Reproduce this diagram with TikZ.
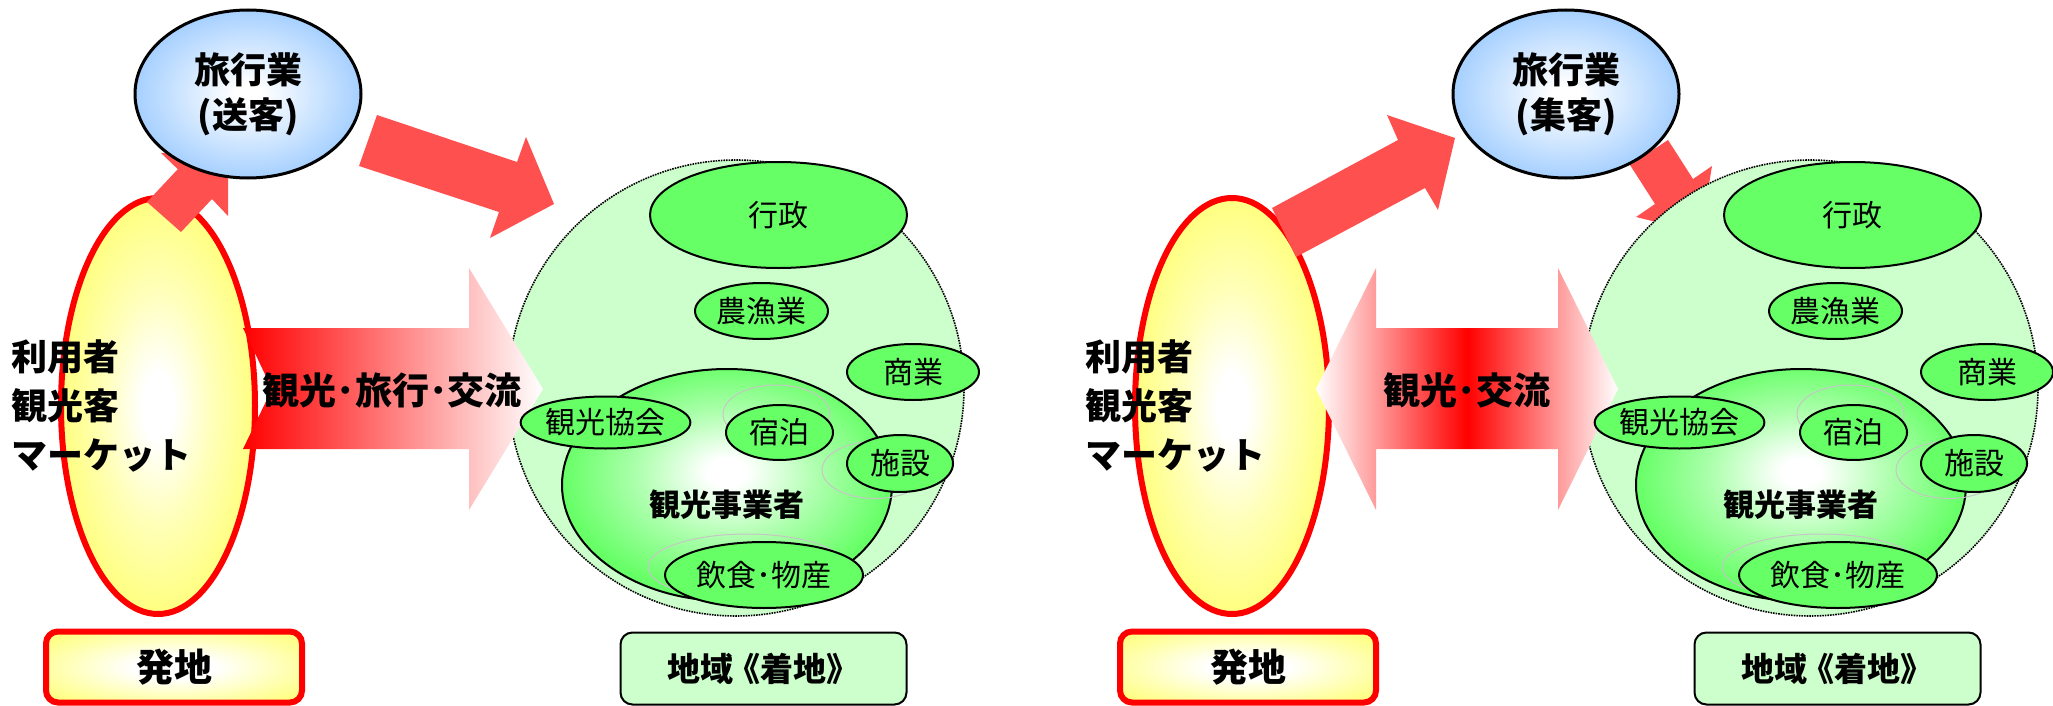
\documentclass[tikz,border=0pt]{standalone}
\usepackage{fontspec}
\setmainfont{Noto Sans CJK JP}
\usetikzlibrary{shapes.geometric}
\definecolor{arrred}{HTML}{FF5050}
\definecolor{tblue}{HTML}{A6D0FF}
\definecolor{myyel}{HTML}{FFFF80}
\definecolor{lgreen}{HTML}{CCFFCC}
\definecolor{mgreen}{HTML}{66FF66}
\pgfdeclareradialshading{bluerad}{\pgfpoint{0bp}{0bp}}{color(0bp)=(white); color(3bp)=(white); color(15bp)=(tblue!55!white); color(25bp)=(tblue); color(50bp)=(tblue)}
\pgfdeclareradialshading{yelrad}{\pgfpoint{0bp}{0bp}}{color(0bp)=(white); color(4bp)=(white); color(14bp)=(myyel!55!white); color(25bp)=(myyel); color(50bp)=(myyel)}
\pgfdeclareradialshading{boxrad}{\pgfpoint{0bp}{0bp}}{color(0bp)=(white); color(8bp)=(white); color(22bp)=(myyel!60!white); color(32bp)=(myyel); color(50bp)=(myyel)}
\pgfdeclareradialshading{grnrad}{\pgfpoint{0bp}{3bp}}{color(0bp)=(white); color(3bp)=(white); color(14bp)=(mgreen!55!white); color(25bp)=(mgreen); color(50bp)=(mgreen)}
\pgfdeclarehorizontalshading{redwhite}{100bp}{color(0bp)=(red); color(25bp)=(red); color(75bp)=(white); color(100bp)=(white)}
\pgfdeclarehorizontalshading{whiteredwhite}{100bp}{color(0bp)=(white); color(25bp)=(white); color(50bp)=(red); color(75bp)=(white); color(100bp)=(white)}

\newcommand\myregcircle[1]{%
  \node[regcirc] (#1circ) at (736,388) {};}
\newcommand\myreginner[1]{%
  \node[bizell] (#1biz) at (727,485) {};
  \node[ghost, minimum width=107pt, minimum height=58pt] (#1ghA) at (776.5,414) {};
  \node[ghost, minimum width=106pt, minimum height=57pt] (#1ghB) at (875,470) {};
  \node[ghost, minimum width=198pt, minimum height=66pt] (#1ghC) at (747,567) {};
  \node[sub, minimum width=257pt, minimum height=106pt] (#1gyosei) at (778.5,215) {行政};
  \node[sub, minimum width=133pt, minimum height=56pt] (#1nogyo) at (761.5,311) {農漁業};
  \node[sub, minimum width=132pt, minimum height=56pt] (#1shogyo) at (913,372) {商業};
  \node[sub, minimum width=167pt, minimum height=52pt] (#1kyokai) at (605.5,422.5) {観光協会};
  \node[sub, minimum width=107pt, minimum height=55pt] (#1shuku) at (779.5,432.5) {宿泊};
  \node[sub, minimum width=106pt, minimum height=57pt] (#1shisetsu) at (900,463.5) {施設};
  \node[sub, minimum width=198pt, minimum height=66pt] (#1inshoku) at (764,575) {飲食･物産};
  \node[font=\fontsize{31}{36}\selectfont\bfseries] (#1biztxt) at (727,505) {観光事業者};
  \node[chaku] (#1chaku) at (763.5,668.5) {地域\kern-0.2em《着地》};}
\newcommand\mymarket[1]{%
  \node[market] (#1mkt) at (158,406) {};}
\newcommand\mymarkettext[1]{%
  \node[anchor=west, align=left, font=\fontsize{36}{49}\selectfont\bfseries] (#1mtxt) at (8,406) {利用者\\観光客\\マーケット};
  \node[hatsu] (#1hatsu) at (174,667) {発地};}

\begin{document}
\begin{tikzpicture}[x=1pt,y=-1pt,
  regcirc/.style={circle, minimum size=456pt, inner sep=0pt, fill=lgreen, draw=black, densely dotted, line width=1.6pt},
  market/.style={ellipse, minimum width=194pt, minimum height=416pt, inner sep=0pt, draw=red, line width=6pt, shade, shading=yelrad},
  travel/.style={ellipse, minimum width=226pt, minimum height=168pt, inner sep=0pt, draw=black, line width=3pt, shade, shading=bluerad, align=center, font=\fontsize{36}{45}\selectfont\bfseries},
  bizell/.style={ellipse, minimum width=330pt, minimum height=232pt, inner sep=0pt, draw=black, line width=2pt, shade, shading=grnrad},
  ghost/.style={ellipse, inner sep=0pt, draw=gray!45, line width=1pt},
  sub/.style={ellipse, inner sep=0pt, draw=black, line width=2pt, fill=mgreen, font=\fontsize{30}{36}\selectfont},
  hatsu/.style={rectangle, rounded corners=12pt, minimum width=256pt, minimum height=71pt, inner sep=0pt, draw=red, line width=6pt, shade, shading=boxrad, font=\fontsize{38}{44}\selectfont\bfseries},
  chaku/.style={rectangle, rounded corners=12pt, minimum width=286pt, minimum height=72pt, inner sep=0pt, draw=black, line width=2pt, fill=lgreen, font=\fontsize{33}{40}\selectfont\bfseries},
  flowtxt/.style={font=\fontsize{37}{44}\selectfont\bfseries}]
\useasboundingbox (0,0) rectangle (2053,706);

% ---------------- left panel ----------------
\myregcircle{L}
\fill[arrred] (377,115) -- (517,162) -- (526,137) -- (554,204) -- (490,238) -- (499,212) -- (359,166) -- cycle;
\mymarket{L}
\fill[arrred] (147,202) -- (177.8,169.2) -- (161,153) -- (228.4,148.5) -- (228,216) -- (212,199) -- (181,232) -- cycle;
\node[travel] (Ltrav) at (248,94) {旅行業\\(送客)};
\shade[shading=redwhite] (243,328) -- (469,328) -- (469,268) -- (543,389) -- (469,510) -- (469,449) -- (243,449) -- (272,389) -- cycle;
\node[flowtxt] (Lflow) at (392,390) {観光･旅行･交流};
\mymarkettext{L}
\myreginner{L}

% ---------------- right panel ----------------
\fill[arrred] (1630,165) -- (1668,140) -- (1693,179) -- (1712,166) -- (1701,233) -- (1636,217) -- (1655,204) -- cycle;
\begin{scope}[xshift=1074pt]
\myregcircle{R}
\mymarket{R}
\end{scope}
\fill[arrred] (1272,208) -- (1398,140) -- (1387,115) -- (1455,138) -- (1438,210) -- (1425,188) -- (1296,257) -- cycle;
\node[travel] (Rtrav) at (1566,94) {旅行業\\(集客)};
\shade[shading=whiteredwhite] (1316,389) -- (1376,268) -- (1376,328) -- (1558,328) -- (1558,268) -- (1618,389) -- (1558,510) -- (1558,449) -- (1376,449) -- (1376,510) -- cycle;
\node[flowtxt] (Rflow) at (1467,390) {観光･交流};
\begin{scope}[xshift=1074pt]
\mymarkettext{R}
\myreginner{R}
\end{scope}
\end{tikzpicture}
\end{document}
